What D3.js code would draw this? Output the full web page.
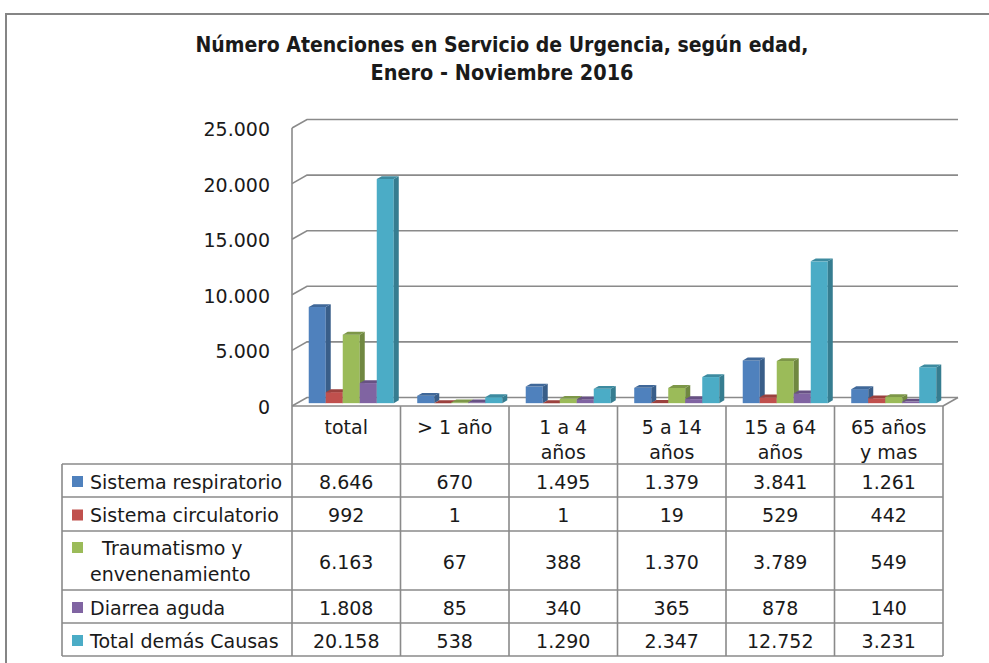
<!DOCTYPE html>
<html>
<head>
<meta charset="utf-8">
<script src="https://cdn.jsdelivr.net/npm/d3@7"></script>
<style>
  body { margin: 0; background: #fff; }
  svg text { font-family: "DejaVu Sans", sans-serif; fill: #1a1a1a; }
</style>
</head>
<body>
<script>
// Data
const categories = ["total", "> 1 año", "1 a 4\naños", "5 a 14\naños", "15 a 64\naños", "65 años\ny mas"];
const seriesNames = ["Sistema respiratorio", "Sistema circulatorio", "  Traumatismo y\nenvenenamiento", "Diarrea aguda", "Total demás Causas"];
const respiratorio = [8646, 670, 1495, 1379, 3841, 1261];
const circulatorio = [992, 1, 1, 19, 529, 442];
const traumatismo = [6163, 67, 388, 1370, 3789, 549];
const diarrea = [1808, 85, 340, 365, 878, 140];
const demasCausas = [20158, 538, 1290, 2347, 12752, 3231];
const yTicks = [0, 5000, 10000, 15000, 20000, 25000];
const seriesValues = [respiratorio, circulatorio, traumatismo, diarrea, demasCausas];

const colors = ["#4F81BD", "#C0504D", "#9BBB59", "#8064A2", "#4BACC6"];

function main() {
  const svgWidth = 989, svgHeight = 663;
  const svg = d3.select("body").append("svg")
    .attr("width", svgWidth)
    .attr("height", svgHeight);

  // spanish number format 20.158
  const fmt = d3.formatLocale({ decimal: ",", thousands: ".", grouping: [3], currency: ["$", ""] }).format(",d");

  // outer frame
  svg.append("path")
    .attr("d", "M6,663 L6,14 L989,14")
    .attr("fill", "none").attr("stroke", "#858585").attr("stroke-width", 2);

  // title
  const title = svg.append("g").attr("font-weight", "bold");
  [["Número Atenciones en Servicio de Urgencia, según edad,", 52, 613],
   ["Enero - Noviembre 2016", 80, 263]].forEach(function (t) {
    title.append("text")
      .attr("x", 502).attr("y", t[1])
      .attr("text-anchor", "middle")
      .style("font-family", "'Liberation Sans Narrow', 'DejaVu Sans Condensed', sans-serif")
      .style("font-size", "21px")
      .attr("textLength", t[2])
      .attr("lengthAdjust", "spacingAndGlyphs")
      .text(t[0]);
  });

  // 3D geometry: depth vector of the floor
  const depthX = 15, depthY = -8.5;
  const x0 = d3.scaleBand().domain(categories).range([292, 943]);
  const x1 = d3.scaleBand().domain(seriesNames).range([0, x0.bandwidth()]).paddingOuter(0.69);
  const y = d3.scaleLinear().domain([0, 25000]).range([406, 128]);

  const grid = "#8a8a8a";

  // back wall gridlines with the left wall diagonal
  svg.append("g").selectAll("path")
    .data(yTicks)
    .enter().append("path")
      .attr("d", function (d) {
        const yy = y(d);
        return "M292," + yy + " L" + (292 + depthX) + "," + (yy + depthY) + " L" + (943 + depthX) + "," + (yy + depthY);
      })
      .attr("fill", "none").attr("stroke", grid).attr("stroke-width", 1.6);

  // floor right edge and left wall line
  svg.append("path")
    .attr("d", "M943," + y(0) + " L" + (943 + depthX) + "," + (y(0) + depthY))
    .attr("fill", "none").attr("stroke", grid).attr("stroke-width", 1.6);

  // y tick labels
  svg.append("g").selectAll("text")
    .data(yTicks)
    .enter().append("text")
      .attr("x", 270)
      .attr("y", function (d) { return y(d) + 1; })
      .attr("text-anchor", "end")
      .attr("dominant-baseline", "central")
      .style("font-size", "19px")
      .text(function (d) { return fmt(d); });

  // bars (front plane sits a third of the way into the floor)
  const bx = depthX / 3, by = depthY / 3;
  const bw = x1.bandwidth();
  const bars = svg.append("g");
  categories.forEach(function (cat, ci) {
    seriesNames.forEach(function (s, si) {
      const v = seriesValues[si][ci];
      const left = x0(cat) + x1(s) + bx;
      const top = y(v) + by;
      const base = y(0) + by;
      const c = d3.color(colors[si]);
      const g = bars.append("g");
      g.append("rect")
        .attr("x", left).attr("y", top)
        .attr("width", bw).attr("height", Math.max(0, base - top))
        .attr("fill", colors[si]);
      g.append("polygon")
        .attr("points", [[left + bw, top], [left + bw + bx, top + by], [left + bw + bx, base + by], [left + bw, base]].join(" "))
        .attr("fill", c.darker(0.9));
      g.append("polygon")
        .attr("points", [[left, top], [left + bx, top + by], [left + bw + bx, top + by], [left + bw, top]].join(" "))
        .attr("fill", c.darker(0.6));
    });
  });

  // data table
  const rowEdges = [464, 497, 531, 590, 623, 656];
  const tbl = svg.append("g").attr("stroke", grid).attr("stroke-width", 1.6).attr("fill", "none");
  // floor front edge / header top
  tbl.append("line").attr("x1", 292).attr("x2", 943).attr("y1", y(0)).attr("y2", y(0));
  // left wall line continuing down as the first column border
  tbl.append("line").attr("x1", 292).attr("x2", 292).attr("y1", y(25000)).attr("y2", 656);
  categories.forEach(function (cat) {
    const xr = x0(cat) + x0.bandwidth();
    tbl.append("line").attr("x1", xr).attr("x2", xr).attr("y1", y(0)).attr("y2", 656);
  });
  rowEdges.forEach(function (r) {
    tbl.append("line").attr("x1", 62).attr("x2", 943).attr("y1", r).attr("y2", r);
  });
  tbl.append("line").attr("x1", 62).attr("x2", 62).attr("y1", 464).attr("y2", 656);

  // header labels
  const head = svg.append("g").style("font-size", "19px").attr("text-anchor", "middle");
  categories.forEach(function (cat) {
    const cx = x0(cat) + x0.bandwidth() / 2;
    cat.split("\n").forEach(function (line, li) {
      head.append("text")
        .attr("x", cx).attr("y", 427 + li * 25)
        .attr("dominant-baseline", "central")
        .text(line);
    });
  });

  // rows: legend key + values
  const body = svg.append("g").style("font-size", "19px");
  seriesNames.forEach(function (s, si) {
    const rTop = rowEdges[si], rBot = rowEdges[si + 1];
    const cy = (rTop + rBot) / 2;
    const lines = s.split("\n");
    const firstY = lines.length > 1 ? cy - 13 : cy + 1;
    body.append("rect")
      .attr("x", 72).attr("y", firstY - 5.5)
      .attr("width", 11).attr("height", 11)
      .attr("fill", colors[si]);
    lines.forEach(function (line, li) {
      body.append("text")
        .attr("x", 90).attr("y", firstY + li * 26)
        .attr("dominant-baseline", "central")
        .style("white-space", "pre")
        .text(line);
    });
    categories.forEach(function (cat, ci) {
      body.append("text")
        .attr("x", x0(cat) + x0.bandwidth() / 2)
        .attr("y", cy + 1)
        .attr("text-anchor", "middle")
        .attr("dominant-baseline", "central")
        .text(fmt(seriesValues[si][ci]));
    });
  });
}
main();
</script>
</body>
</html>
